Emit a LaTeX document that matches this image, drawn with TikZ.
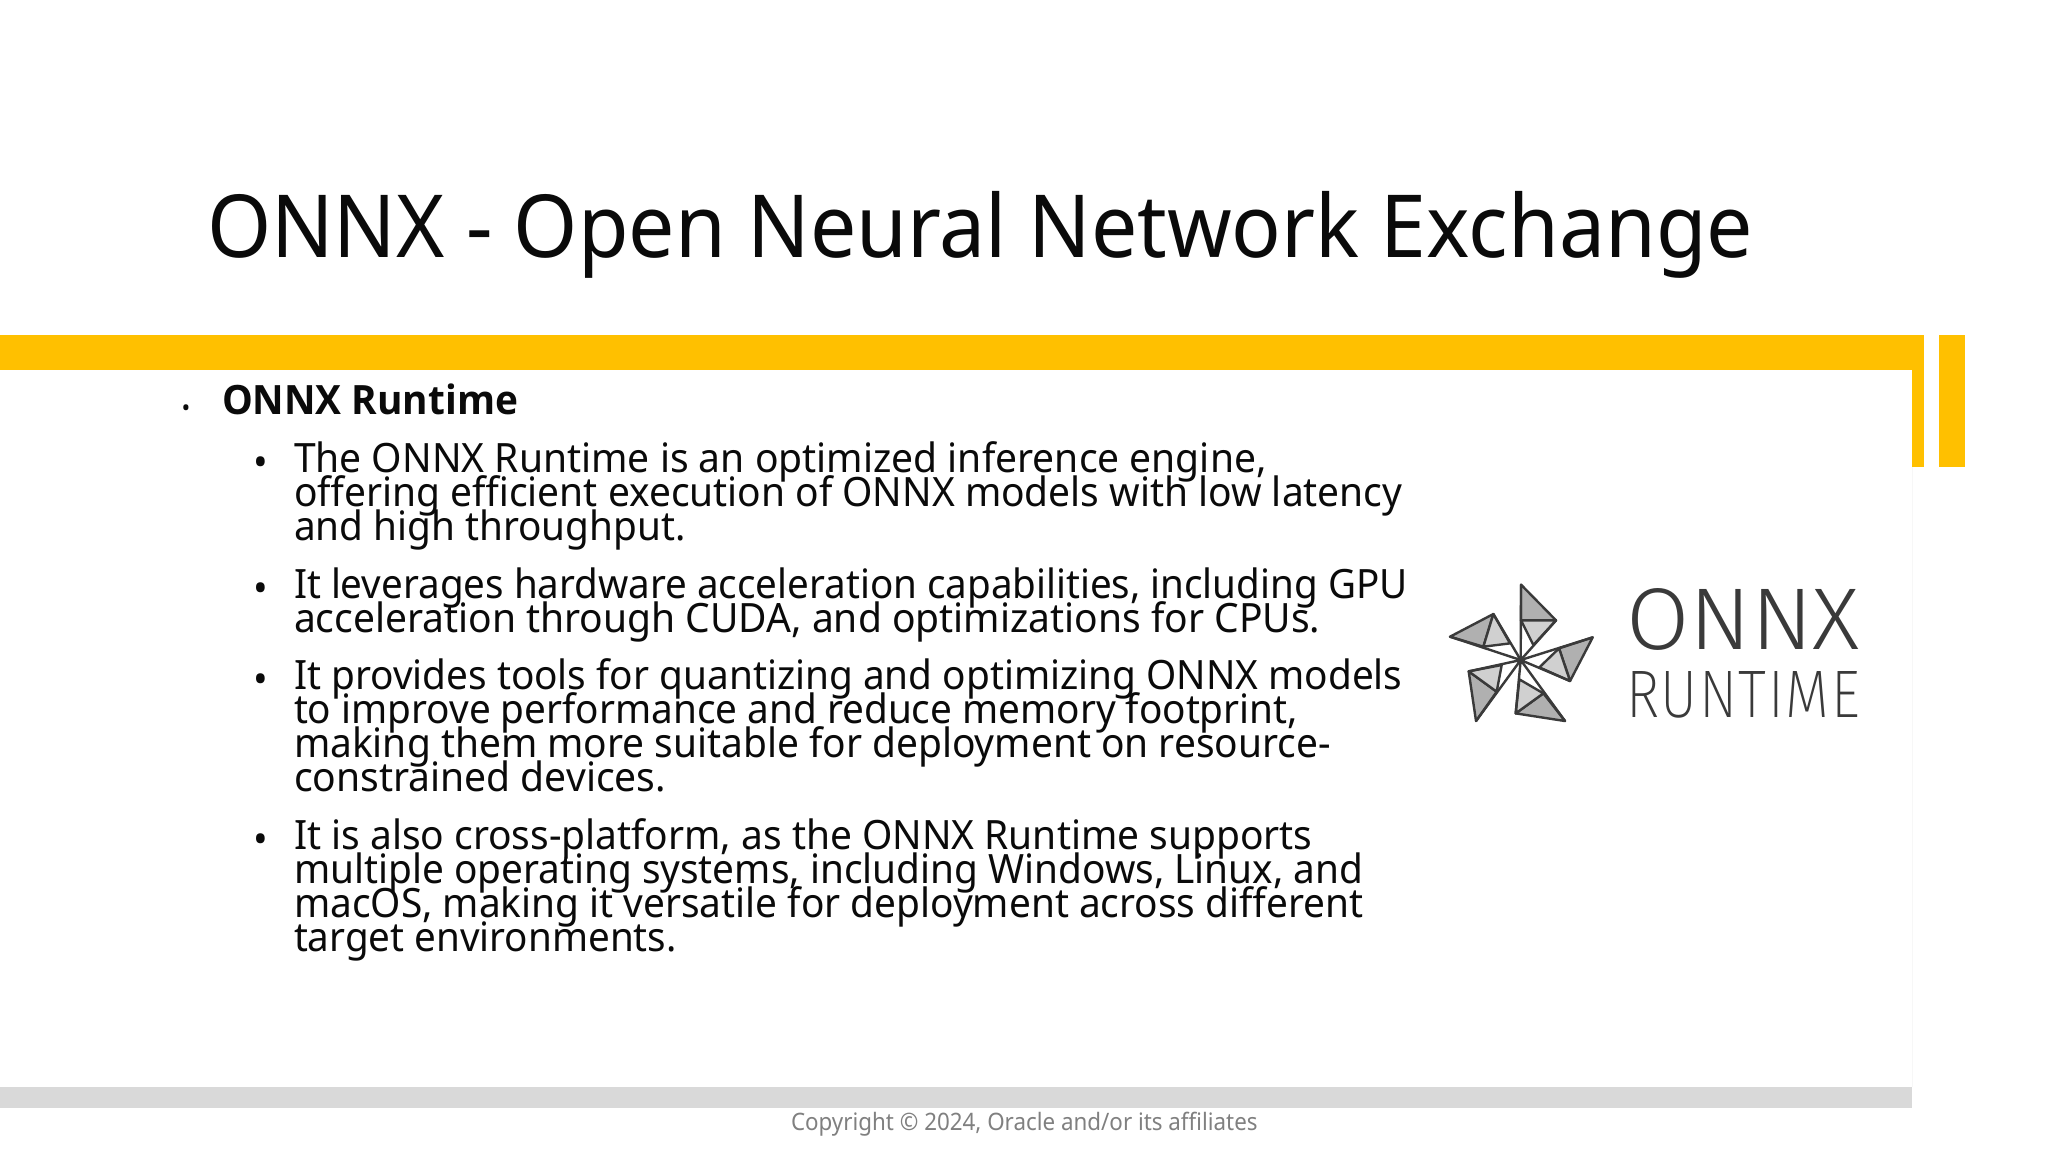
\documentclass[tikz,border=0pt]{standalone}
\usepackage{fontspec}
\usepackage{graphicx}
\setmainfont{Noto Sans}
\newfontfamily\bodyf{Noto Sans}[FakeStretch=0.9675]
\newfontfamily\titlef{Noto Sans}[FakeStretch=0.946]
\newfontfamily\copyf{Noto Sans}[FakeStretch=0.932]
\newfontfamily\headf{Open Sans}[FakeStretch=0.96]
\newfontfamily\logofont{Fira Sans Light}
\newfontfamily\logofontb{Fira Sans ExtraLight}
\newcommand{\fitline}[2]{\resizebox{#1pt}{\height}{#2}}
\definecolor{oyellow}{HTML}{FFC000}
\definecolor{oband}{HTML}{D9D9D9}
\definecolor{ink}{HTML}{0A0A0A}
\definecolor{logodark}{HTML}{B0B0B0}
\definecolor{logolight}{HTML}{D0D0D0}
\definecolor{logoline}{HTML}{3A3A3A}
\tikzset{
 txt/.style={anchor=base west,inner sep=0pt,outer sep=0pt,text=ink,align=left},
 bodytxt/.style={txt,font=\bodyf\fontsize{20.2pt}{17pt}\selectfont},
 bul/.style={anchor=base,inner sep=0pt,text=ink,font=\bodyf\fontsize{20.2pt}{17pt}\selectfont},
 dk/.style={fill=logodark,draw=logoline,line width=1.2pt,line join=round},
 lt/.style={fill=logolight,draw=logoline,line width=1.2pt,line join=round},
 spoke/.style={draw=logoline,line width=1.2pt,line cap=round},
}
\begin{document}
\begin{tikzpicture}[x=0.5pt,y=-0.5pt]
\useasboundingbox (0,0) rectangle (2048,1152);
\fill[white] (0,0) rectangle (2048,1152);
% frame
\fill[oyellow] (0,335) rectangle (1924,370);
\fill[oyellow] (1912,335) rectangle (1924,467);
\fill[oyellow] (1939,335) rectangle (1965,467);
\draw[black!3,line width=0.5pt] (1912,467) -- (1912,1087);
\fill[oband] (0,1087) rectangle (1912,1108);
% text
\node[txt,font=\titlef\fontsize{43.5pt}{50pt}\selectfont] (title) at (207,257) {ONNX - Open Neural Network Exchange};
\node[bul,font=\bodyf\fontsize{12pt}{12pt}\selectfont] (b0) at (186,416) {•};
\node[txt,font=\headf\bfseries\fontsize{20.2pt}{24pt}\selectfont] (head) at (222,414) {ONNX Runtime};
\node[bul] (b1) at (261,476) {•};
\node[bodytxt] (p1) at (294,472) {\fitline{486.3}{The ONNX Runtime is an optimized inference engine,}};
\node[bodytxt] (p1b) at (294,506) {\fitline{554.2}{offering efficient execution of ONNX models with low latency}};
\node[bodytxt] (p1c) at (294,540) {\fitline{195.8}{and high throughput.}};
\node[bul] (b2) at (261,602) {•};
\node[bodytxt] (p2) at (294,598) {\fitline{556.8}{It leverages hardware acceleration capabilities, including GPU}};
\node[bodytxt] (p2b) at (294,632) {\fitline{513.1}{acceleration through CUDA, and optimizations for CPUs.}};
\node[bul] (b3) at (261,693) {•};
\node[bodytxt] (p3) at (294,689) {\fitline{554.2}{It provides tools for quantizing and optimizing ONNX models}};
\node[bodytxt] (p3b) at (294,723) {\fitline{502.0}{to improve performance and reduce memory footprint,}};
\node[bodytxt] (p3c) at (294,757) {\fitline{518.3}{making them more suitable for deployment on resource-}};
\node[bodytxt] (p3d) at (294,791) {\fitline{186.0}{constrained devices.}};
\node[bul] (b4) at (261,853) {•};
\node[bodytxt] (p4) at (294,849) {\fitline{509.2}{It is also cross-platform, as the ONNX Runtime supports}};
\node[bodytxt] (p4b) at (294,883) {\fitline{534.6}{multiple operating systems, including Windows, Linux, and}};
\node[bodytxt] (p4c) at (294,917) {\fitline{534.6}{macOS, making it versatile for deployment across different}};
\node[bodytxt] (p4d) at (294,951) {\fitline{191.3}{target environments.}};
\node[txt,text=black!50,font=\copyf\fontsize{12pt}{14pt}\selectfont] (copy) at (791,1130) {Copyright © 2024, Oracle and/or its affiliates};
% logo
\begin{scope}[shift={(1450,580)},x=0.1667pt,y=-0.1667pt]
\coordinate (c) at (212,240);
\draw[dk] (213,14) -- (318,121) -- (213,121) -- cycle;
\draw[lt] (213,121) -- (318,121) -- (250,195) -- cycle;
\draw[spoke] (c) -- (213,14) (c) -- (318,121);
\draw[dk] (428,172) -- (360,303) -- (327,205) -- cycle;
\draw[lt] (327,205) -- (360,303) -- (268,262) -- cycle;
\draw[spoke] (c) -- (428,172) (c) -- (360,303);
\draw[dk] (345,423) -- (197,400) -- (280,340) -- cycle;
\draw[lt] (197,400) -- (280,340) -- (208,298) -- cycle;
\draw[spoke] (c) -- (345,423) (c) -- (197,400);
\draw[dk] (78,423) -- (56,274) -- (140,335) -- cycle;
\draw[lt] (56,274) -- (140,335) -- (155,255) -- cycle;
\draw[spoke] (c) -- (56,274) (c) -- (78,423);
\draw[dk] (0,170) -- (130,102) -- (100,200) -- cycle;
\draw[lt] (130,102) -- (100,200) -- (180,190) -- cycle;
\draw[spoke] (c) -- (0,170) (c) -- (130,102);
\fill[logoline] (c) circle (9);
\end{scope}
\node[txt,text=logoline] (lg1) at (1626,649) {\resizebox{117pt}{30.5pt}{\logofont ONNX}};
\node[txt,text=logoline] (lg2) at (1626,717) {\resizebox{117pt}{23pt}{\logofontb\addfontfeature{LetterSpace=3}RUNTIME}};
\end{tikzpicture}
\end{document}
